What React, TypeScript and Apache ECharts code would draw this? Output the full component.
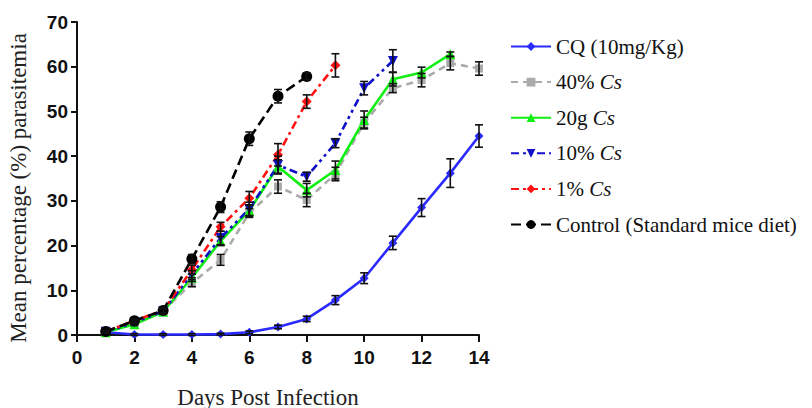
import React, { useEffect, useRef } from "react";
import * as echarts from "echarts";

const days = [1, 2, 3, 4, 5, 6, 7, 8, 9, 10, 11, 12, 13, 14];
const seriesNames = ["CQ (10mg/Kg)", "40% Cs", "20g Cs", "10% Cs", "1% Cs", "Control (Standard mice diet)"];

const cqValues = [0.6, 0.1, 0.1, 0.1, 0.2, 0.6, 1.8, 3.6, 7.8, 12.7, 20.6, 28.5, 36.2, 44.5];
const cqErr = [0.2, 0.2, 0.2, 0.2, 0.2, 0.3, 0.4, 0.6, 1.0, 1.2, 1.5, 2.0, 3.2, 2.5];
const cs40Values = [0.8, 3.0, 5.4, 11.6, 16.8, 27.3, 33.2, 30.2, 36.0, 47.5, 55.2, 57.0, 60.8, 59.6];
const cs40Err = [0.2, 0.4, 0.5, 0.8, 1.2, 1.0, 1.5, 1.5, 1.5, 1.2, 1.0, 1.5, 1.5, 1.5];
const g20Values = [0.6, 2.4, 5.2, 12.8, 21.0, 27.8, 37.7, 32.4, 36.9, 48.1, 57.2, 58.7, 62.8];
const g20Err = [0.2, 0.3, 0.5, 0.8, 1.0, 1.2, 1.5, 1.5, 2.0, 2.0, 1.5, 1.2, 0.5];
const cs10Values = [0.7, 2.8, 5.3, 13.6, 21.7, 28.2, 38.0, 35.4, 42.9, 55.2, 61.3];
const cs10Err = [0.2, 0.3, 0.5, 0.8, 1.5, 1.5, 2.0, 1.0, 1.0, 1.5, 2.5];
const cs1Values = [0.8, 3.2, 5.5, 14.6, 24.2, 30.6, 40.3, 52.2, 60.3];
const cs1Err = [0.2, 0.4, 0.5, 1.0, 1.0, 1.5, 2.5, 1.5, 2.6];
const ctrlValues = [0.8, 3.2, 5.5, 17.0, 28.6, 43.9, 53.4, 57.8];
const ctrlErr = [0.2, 0.4, 0.6, 1.0, 1.2, 1.5, 1.5, 0.8];

const xTicks = { min: 0, max: 14, interval: 2 };
const yTicks = { min: 0, max: 70, interval: 10 };

const colors = ["#2b2bff", "#ababab", "#11ee11", "#1010c8", "#ff1111", "#000000"];

function pts(vals: number[]) {
  return vals.map((v, i) => [days[i], v]);
}
function errs(vals: number[], e: number[]) {
  return vals.map((v, i) => [days[i], v - e[i], v + e[i]]);
}

export default function App() {
  const ref = useRef<HTMLDivElement>(null);
  useEffect(() => {
    if (!ref.current) return;
    const chart = echarts.init(ref.current, null, { renderer: "svg" });

    const errRender = (params: any, api: any) => {
      const x = api.value(0);
      const lo = api.coord([x, api.value(1)]);
      const hi = api.coord([x, api.value(2)]);
      const c = 4;
      const st = { stroke: "#111", lineWidth: 1.6 };
      return {
        type: "group",
        children: [
          { type: "line", shape: { x1: lo[0], y1: lo[1], x2: hi[0], y2: hi[1] }, style: st },
          { type: "line", shape: { x1: lo[0] - c, y1: lo[1], x2: lo[0] + c, y2: lo[1] }, style: st },
          { type: "line", shape: { x1: hi[0] - c, y1: hi[1], x2: hi[0] + c, y2: hi[1] }, style: st },
        ],
      };
    };

    const specs = [
      { name: seriesNames[0], vals: cqValues, err: cqErr, symbol: "diamond", size: 9, dash: "solid", rot: 0 },
      { name: seriesNames[1], vals: cs40Values, err: cs40Err, symbol: "rect", size: 8, dash: [7, 5], rot: 0 },
      { name: seriesNames[2], vals: g20Values, err: g20Err, symbol: "triangle", size: 10, dash: "solid", rot: 0 },
      { name: seriesNames[3], vals: cs10Values, err: cs10Err, symbol: "triangle", size: 10, dash: [8, 4, 3, 4, 3, 4], rot: 180 },
      { name: seriesNames[4], vals: cs1Values, err: cs1Err, symbol: "diamond", size: 10, dash: [8, 4, 3, 4], rot: 0 },
      { name: seriesNames[5], vals: ctrlValues, err: ctrlErr, symbol: "circle", size: 11, dash: [10, 5], rot: 0 },
    ];

    const series: any[] = [];
    specs.forEach((s) => {
      series.push({
        name: s.name + "_err",
        type: "custom",
        renderItem: errRender,
        data: errs(s.vals, s.err),
        z: 3,
        silent: true,
      });
    });
    specs.forEach((s, i) => {
      series.push({
        name: s.name,
        type: "line",
        data: pts(s.vals),
        symbol: s.symbol,
        symbolSize: s.size,
        symbolRotate: s.rot,
        showAllSymbol: true,
        color: colors[i],
        lineStyle: { color: colors[i], width: 2.6, type: s.dash },
        itemStyle: { color: colors[i] },
        z: 2,
      });
    });

    const serif = "'Liberation Serif', 'Times New Roman', serif";
    const sans = "'Liberation Sans', Arial, sans-serif";

    chart.setOption({
      animation: false,
      backgroundColor: "#ffffff",
      grid: { left: 77, right: 333, top: 22, bottom: 73, containLabel: false },
      xAxis: {
        type: "value",
        min: xTicks.min,
        max: xTicks.max,
        interval: xTicks.interval,
        axisLine: { lineStyle: { color: "#111", width: 2 } },
        axisTick: { show: true, inside: false, length: 7, lineStyle: { color: "#111", width: 2 } },
        axisLabel: { color: "#111", fontFamily: sans, fontWeight: "bold", fontSize: 19, margin: 13 },
        splitLine: { show: false },
      },
      yAxis: {
        type: "value",
        min: yTicks.min,
        max: yTicks.max,
        interval: yTicks.interval,
        axisLine: { show: true, lineStyle: { color: "#111", width: 2 } },
        axisTick: { show: true, inside: false, length: 6, lineStyle: { color: "#111", width: 2 } },
        axisLabel: { color: "#111", fontFamily: sans, fontWeight: "bold", fontSize: 19, margin: 9 },
        splitLine: { show: false },
      },
      legend: {
        data: seriesNames,
        orient: "vertical",
        left: 505,
        top: 31,
        itemGap: 14.6,
        itemWidth: 40,
        itemHeight: 11,
        textStyle: {
          fontFamily: serif,
          fontSize: 21,
          color: "#111",
          rich: {
            n: { fontFamily: serif, fontSize: 21, color: "#111" },
            i: { fontFamily: serif, fontSize: 21, color: "#111", fontStyle: "italic" },
          },
        },
        formatter: (name: string) => {
          if (name.endsWith(" Cs")) {
            return "{n|" + name.slice(0, -2) + "}{i|Cs}";
          }
          return "{n|" + name + "}";
        },
      },
      graphic: [
        {
          type: "text",
          x: 18,
          y: 188,
          rotation: Math.PI / 2,
          style: {
            text: "Mean percentage (%) parasitemia",
            fontFamily: serif,
            fontSize: 23,
            fill: "#222",
            align: "center",
            verticalAlign: "middle",
          },
        },
        {
          type: "text",
          x: 268,
          y: 397,
          style: {
            text: "Days Post Infection",
            fontFamily: serif,
            fontSize: 23,
            fill: "#222",
            align: "center",
            verticalAlign: "middle",
          },
        },
      ],
      series,
    });
    return () => chart.dispose();
  }, []);
  return <div ref={ref} style={{ width: 812, height: 408, position: "absolute", left: 0, top: 0 }} />;
}
